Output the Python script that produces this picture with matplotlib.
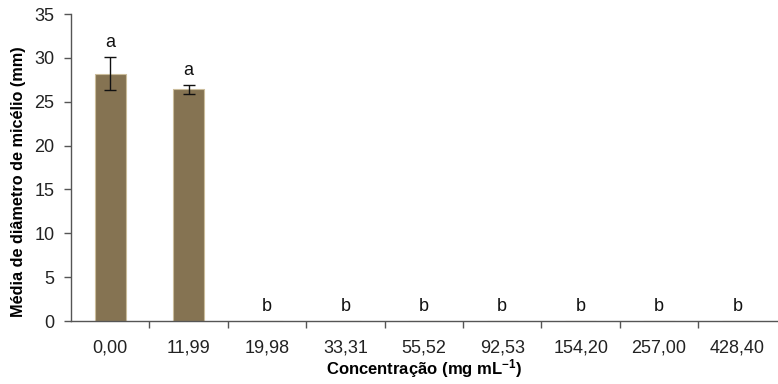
import numpy as np
import matplotlib.pyplot as plt

plt.rcParams['font.family'] = ['Liberation Sans', 'DejaVu Sans']
plt.rcParams['mathtext.fontset'] = 'custom'
plt.rcParams['mathtext.bf'] = 'Liberation Sans:bold'

concentracoes = ['0,00', '11,99', '19,98', '33,31', '55,52', '92,53', '154,20', '257,00', '428,40']
medias = [28.2, 26.4, 0, 0, 0, 0, 0, 0, 0]
erros = [1.9, 0.5, 0, 0, 0, 0, 0, 0, 0]
letras = ['a', 'a', 'b', 'b', 'b', 'b', 'b', 'b', 'b']

fig = plt.figure(figsize=(7.78, 3.84), dpi=100)
ax = fig.add_axes([0.0913, 0.164, 0.907, 0.7995])

x = np.arange(len(concentracoes))
ax.bar(x, medias, width=0.4, color='#857352', edgecolor='#cbbd9c', linewidth=0.8)
for i in range(len(x)):
    if erros[i] > 0:
        ax.errorbar(x[i], medias[i], yerr=erros[i], fmt='none', ecolor='#111111',
                    elinewidth=1, capsize=4, capthick=1)
    ax.text(x[i], medias[i] + erros[i] + 0.7, letras[i], ha='center', va='bottom',
            fontsize=13, color='#111111')

ax.set_xlim(-0.5, len(x) - 0.5)
ax.set_ylim(0, 35)
ax.set_yticks(range(0, 36, 5))
ax.set_xticks(x)
ax.set_xticklabels(concentracoes, fontsize=13)
ax.set_xticks(np.arange(0.5, len(x) - 0.5, 1), minor=True)
ax.tick_params(axis='x', which='major', length=0, pad=13, labelcolor='#222222')
ax.tick_params(axis='x', which='minor', length=5, width=1, color='#555555', direction='out')
ax.tick_params(axis='y', length=5, width=1, color='#555555', labelsize=13, pad=7, labelcolor='#222222')
for s in ['top', 'right']:
    ax.spines[s].set_visible(False)
for s in ['left', 'bottom']:
    ax.spines[s].set_color('#555555')
    ax.spines[s].set_linewidth(1)

ax.set_ylabel('Média de diâmetro de micélio (mm)', fontsize=11.7, fontweight='bold')
ax.yaxis.set_label_coords(-0.064, 0.455)
ax.set_xlabel('Concentração (mg mL$\\mathbf{^{-1}}$)', fontsize=12, fontweight='bold', labelpad=1)

fig.savefig('out.png', dpi=100)
